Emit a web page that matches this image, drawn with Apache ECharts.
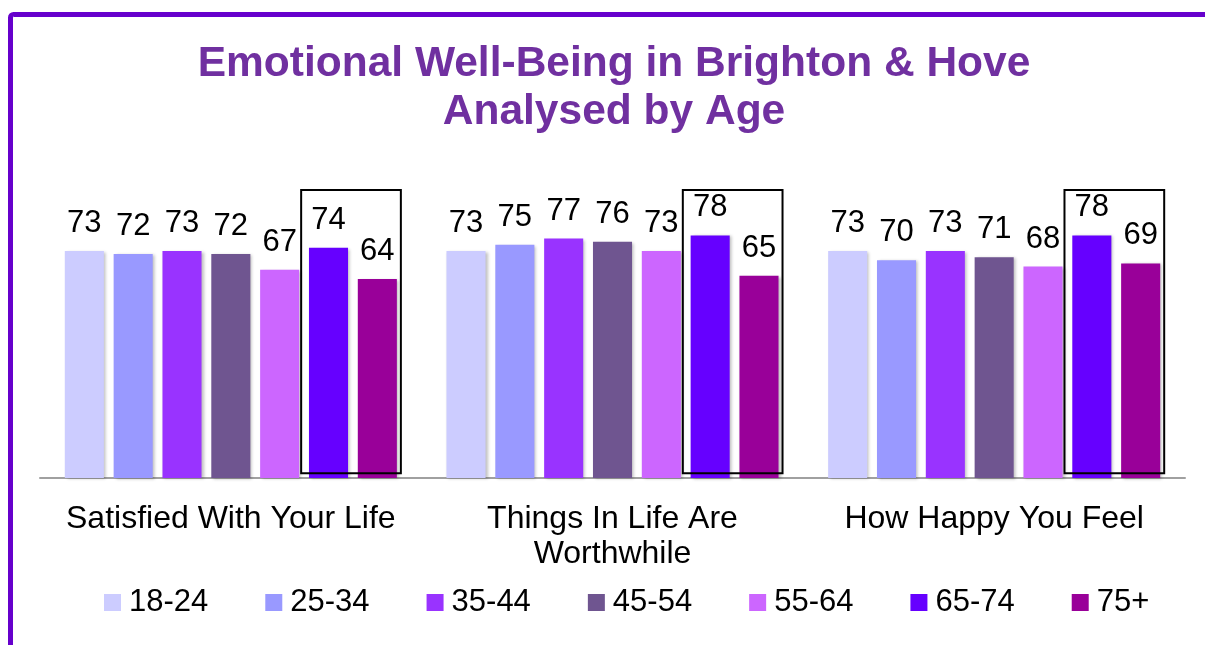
<!DOCTYPE html>
<html>
<head>
<meta charset="utf-8">
<script src="https://cdn.jsdelivr.net/npm/echarts@6/dist/echarts.min.js"></script>
<style>
html,body{margin:0;padding:0;background:#fff;}
#chart{width:1205px;height:645px;}
</style>
</head>
<body>
<div id="chart"></div>
<script>
const categories = ['Satisfied With Your Life', 'Things In Life Are\nWorthwhile', 'How Happy You Feel'];
const ageGroups = ['18-24', '25-34', '35-44', '45-54', '55-64', '65-74', '75+'];
const v18_24 = [73, 73, 73];
const v25_34 = [72, 75, 70];
const v35_44 = [73, 77, 73];
const v45_54 = [72, 76, 71];
const v55_64 = [67, 73, 68];
const v65_74 = [74, 78, 78];
const v75plus = [64, 65, 69];
const seriesValues = [v18_24, v25_34, v35_44, v45_54, v55_64, v65_74, v75plus];
const colors = ['#CCCCFF', '#9999FF', '#9933FF', '#6F5590', '#CC66FF', '#6600FF', '#990099'];

const FONT = '"Liberation Sans", Arial, sans-serif';
const chart = echarts.init(document.getElementById('chart'));

const barSeries = ageGroups.map((name, i) => ({
  name: name,
  type: 'bar',
  data: seriesValues[i],
  barGap: '25%',
  barCategoryGap: '13%',
  itemStyle: {
    color: colors[i],
    shadowColor: 'rgba(0,0,0,0.25)',
    shadowBlur: 3,
    shadowOffsetX: 2,
    shadowOffsetY: 1
  },
  label: {
    show: true,
    position: 'top',
    distance: 12,
    color: '#000',
    fontFamily: FONT,
    fontSize: 31
  },
  emphasis: { disabled: true }
}));

// Highlight boxes around the two oldest age groups, laid out from the category band
const boxSeries = {
  type: 'custom',
  name: 'box',
  silent: true,
  z: 5,
  data: categories.map((c, i) => [i]),
  renderItem: function (params, api) {
    const band = api.size([1, 0])[0];
    const center = api.coord([api.value(0), 0]);
    const group = band * (1 - 0.13);
    const bw = group / (7 + 6 * 0.25);
    const left = center[0] - group / 2 + 5 * bw * 1.25 - bw * 0.2;
    const right = center[0] + group / 2 + 4;
    const top = api.coord([api.value(0), 92.6])[1];
    const bottom = api.coord([api.value(0), 1.5])[1];
    return {
      type: 'rect',
      shape: { x: left, y: top, width: right - left, height: bottom - top },
      style: { fill: null, stroke: '#000', lineWidth: 2 }
    };
  }
};

chart.setOption({
  animation: false,
  backgroundColor: '#fff',
  title: {
    text: 'Emotional Well-Being in Brighton & Hove\nAnalysed by Age',
    left: 609,
    top: 35,
    textAlign: 'center',
    textStyle: {
      color: '#7030A0',
      fontFamily: FONT,
      fontWeight: 'bold',
      fontSize: 42.5,
      lineHeight: 48
    }
  },
  graphic: [{
    type: 'rect',
    shape: { x: 10.5, y: 14.5, width: 1400, height: 800, r: 3 },
    style: { fill: null, stroke: '#6600CC', lineWidth: 5 },
    silent: true
  }],
  legend: {
    data: ageGroups,
    left: 104,
    top: 587,
    padding: 0,
    itemWidth: 17,
    itemHeight: 17,
    itemGap: 57,
    icon: 'rect',
    textStyle: {
      color: '#000',
      fontFamily: FONT,
      fontSize: 31,
      lineHeight: 30,
      padding: [0, 0, 0, 3]
    },
    selectedMode: false
  },
  grid: {
    left: 40,
    right: 20,
    top: 167,
    bottom: 167,
    containLabel: false
  },
  xAxis: {
    type: 'category',
    data: categories,
    axisLine: { show: true, lineStyle: { color: '#A0A0A0', width: 2 } },
    axisTick: { show: false },
    axisLabel: {
      color: '#000',
      fontFamily: FONT,
      fontSize: 32,
      lineHeight: 35,
      margin: 24,
      interval: 0
    }
  },
  yAxis: {
    type: 'value',
    min: 0,
    max: 100,
    interval: 20,
    show: false,
    splitLine: { show: false }
  },
  series: barSeries.concat([boxSeries])
});
</script>
</body>
</html>
